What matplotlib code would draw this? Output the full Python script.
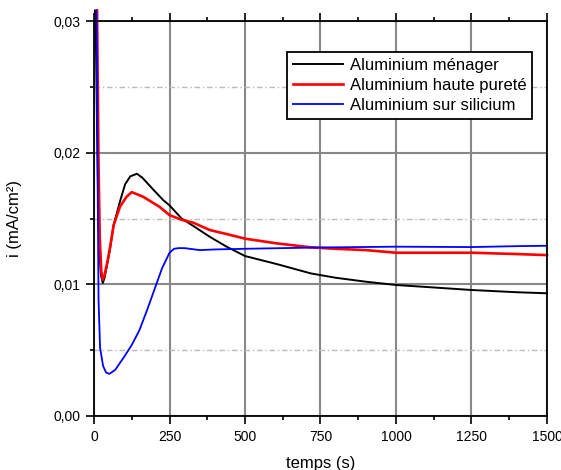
import matplotlib
matplotlib.use("Agg")
import matplotlib.pyplot as plt
from matplotlib.ticker import MultipleLocator, FuncFormatter

plt.rcParams['font.family'] = ['Liberation Sans', 'DejaVu Sans']

# courbes (temps en s, i en mA/cm2)
t_menager = [3, 6, 10, 14, 18, 23, 29, 35, 45, 53, 65, 86, 103, 120, 142, 160, 196, 229, 250,
             290, 329, 384, 439, 500, 605, 718, 800, 900, 1000, 1100, 1250, 1400, 1500]
i_menager = [0.0308, 0.029, 0.022, 0.016, 0.0125, 0.0107, 0.0101, 0.0105, 0.0117, 0.0127, 0.0145,
             0.0163, 0.0176, 0.0182, 0.0184, 0.0181, 0.0172, 0.0164, 0.0160,
             0.0150, 0.01443, 0.0136, 0.01286, 0.01215, 0.01154, 0.01083, 0.0105, 0.0102,
             0.00995, 0.0098, 0.00957, 0.0094, 0.00932]

t_pur = [10, 12, 15, 19, 24, 29, 35, 45, 53, 65, 86, 108, 125, 162, 216, 250, 290, 329, 384,
         439, 500, 605, 718, 800, 900, 1000, 1100, 1250, 1400, 1500]
i_pur = [0.0308, 0.026, 0.019, 0.0135, 0.0110, 0.01035, 0.0107, 0.0118, 0.0128, 0.0145, 0.0159,
         0.01666, 0.0170, 0.01666, 0.0159, 0.01526, 0.0149, 0.01468, 0.01412,
         0.01382, 0.01347, 0.01311, 0.01281, 0.0127, 0.0126, 0.0124, 0.0124, 0.0124, 0.0123, 0.01222]

t_silicium = [8, 10, 12, 15, 20, 30, 40, 51, 70, 100, 125, 150, 175, 200, 225, 250, 265, 280,
              300, 350, 400, 500, 750, 1000, 1250, 1400, 1500]
i_silicium = [0.0308, 0.026, 0.018, 0.0088, 0.0052, 0.0038, 0.0033, 0.0032, 0.0035, 0.0045, 0.0054,
              0.0065, 0.0080, 0.0096, 0.0112, 0.0124, 0.0127, 0.01275,
              0.01275, 0.0126, 0.01265, 0.0127, 0.0128, 0.01286, 0.01283, 0.0129, 0.01293]

fig = plt.figure(figsize=(5.61, 4.70), dpi=100)
ax = fig.add_axes([0.1676, 0.1149, 0.8074, 0.8404])

ax.plot(t_menager, i_menager, color='black', lw=1.4, label='Aluminium ménager', clip_on=False)
ax.plot(t_pur, i_pur, color='red', lw=1.9, label='Aluminium haute pureté', clip_on=False)
ax.plot(t_silicium, i_silicium, color='blue', lw=1.3, label='Aluminium sur silicium', clip_on=False)

ax.set_xlim(0, 1500)
ax.set_ylim(0, 0.03)
ax.xaxis.set_major_locator(MultipleLocator(250))
ax.xaxis.set_minor_locator(MultipleLocator(125))
ax.yaxis.set_major_locator(MultipleLocator(0.01))
ax.yaxis.set_minor_locator(MultipleLocator(0.005))
ax.yaxis.set_major_formatter(FuncFormatter(lambda v, p: f"{v:.2f}".replace('.', ',')))

ax.grid(True, which='major', color='#888888', lw=1.5)
ax.grid(True, which='minor', axis='y', color='#bbbbbb', lw=1, linestyle=(0, (4, 2, 1, 2)))
ax.set_axisbelow(True)

ax.tick_params(which='major', direction='out', length=6, width=1.2, labelsize=10, pad=4,
               top=True, right=False)
ax.tick_params(which='minor', direction='out', length=3, width=1.2, top=True, right=False)
for s in ax.spines.values():
    s.set_linewidth(1.3)

ax.set_xlabel('temps (s)', fontsize=12, labelpad=9)
ax.set_ylabel('i (mA/cm²)', fontsize=12, labelpad=22)

leg = ax.legend(loc='upper right', bbox_to_anchor=(0.967, 0.9215), fontsize=12, frameon=True,
                fancybox=False, edgecolor='black', framealpha=1, handlelength=3.0,
                handletextpad=0.4, labelspacing=0.3, borderpad=0.35, borderaxespad=0)
leg.get_frame().set_linewidth(1.3)

fig.savefig('out.png', dpi=100)
